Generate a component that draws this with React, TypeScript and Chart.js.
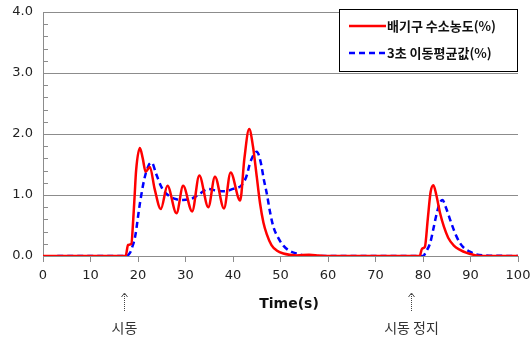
import React, { useEffect, useRef } from "react";
import { Chart, registerables } from "chart.js";

Chart.register(...registerables);

const redX = [0, 17.4, 17.9, 18.6, 19.0, 19.3, 19.6, 20.4, 21.0, 21.6, 22.5, 23.5, 24.8, 26.2, 28.1, 29.5, 31.4, 32.9, 34.8, 36.2, 38.1, 39.5, 41.5, 42.4, 43.4, 44.2, 45.0, 45.7, 46.4, 47.1, 48.1, 49.2, 50.6, 53.4, 56, 58, 60, 79.3, 79.8, 80.4, 81.0, 81.6, 82.2, 82.8, 83.6, 84.4, 85.3, 86.5, 87.8, 89.2, 90.6, 92, 100];
const redY = [0, 0, 0.18, 0.2, 0.6, 1.0, 1.4, 1.77, 1.6, 1.38, 1.46, 1.1, 0.77, 1.15, 0.7, 1.15, 0.73, 1.32, 0.8, 1.3, 0.78, 1.37, 0.91, 1.6, 2.08, 1.8, 1.3, 0.86, 0.55, 0.36, 0.18, 0.09, 0.04, 0.01, 0.02, 0.01, 0, 0, 0.12, 0.15, 0.6, 1.05, 1.16, 1.0, 0.7, 0.48, 0.3, 0.17, 0.1, 0.05, 0.02, 0, 0];

const blueX = [3, 17.5, 18.3, 18.8, 19.4, 20.4, 21.3, 22.2, 22.9, 23.8, 25.0, 26.3, 28.1, 29.5, 31.3, 33.0, 34.8, 36.5, 38.3, 40.0, 41.8, 42.8, 43.7, 45.0, 45.8, 46.5, 47.1, 47.8, 48.5, 49.5, 50.6, 52.0, 53.4, 55, 60, 80, 80.7, 81.5, 82.2, 82.9, 83.5, 84.1, 84.8, 86.0, 87.0, 87.8, 88.8, 89.9, 91, 93, 100];
const blueY = [0, 0, 0.05, 0.15, 0.32, 0.86, 1.25, 1.48, 1.53, 1.35, 1.12, 1.0, 0.93, 0.92, 0.94, 1.02, 1.1, 1.07, 1.06, 1.1, 1.16, 1.3, 1.55, 1.71, 1.55, 1.25, 1.03, 0.72, 0.48, 0.3, 0.17, 0.08, 0.04, 0.01, 0, 0, 0.08, 0.21, 0.45, 0.7, 0.86, 0.92, 0.8, 0.53, 0.33, 0.21, 0.12, 0.07, 0.03, 0.01, 0];

const seriesNames = ["배기구 수소농도(%)", "3초 이동평균값(%)"];
const xTicks = [0, 10, 20, 30, 40, 50, 60, 70, 80, 90, 100];
const yTicks = [0, 1, 2, 3, 4];
const xTitle = "Time(s)";
const markers = [
  { x: 17, label: "시동" },
  { x: 77.5, label: "시동 정지" },
];

const KFONT = "'Noto Sans CJK KR', 'Noto Sans', sans-serif";
const NFONT = "'DejaVu Sans', sans-serif";

const extrasPlugin = {
  id: "extras",
  afterDraw(chart: any) {
    const { ctx, chartArea, scales } = chart;
    const xs = scales.x;
    const ys = scales.y;
    ctx.save();
    ctx.strokeStyle = "#8c8c8c";
    ctx.lineWidth = 1;
    for (let i = 1; i < 20; i++) {
      if (i % 5 === 0) continue;
      const py = Math.round(ys.getPixelForValue(i * 0.2)) + 0.5;
      ctx.beginPath();
      ctx.moveTo(chartArea.left, py);
      ctx.lineTo(chartArea.left + 5, py);
      ctx.stroke();
    }
    const bx = 339.5, by = 9.5, bw = 178, bh = 62;
    ctx.fillStyle = "#ffffff";
    ctx.fillRect(bx, by, bw, bh);
    ctx.strokeStyle = "#000000";
    ctx.lineWidth = 1;
    ctx.strokeRect(bx, by, bw, bh);
    ctx.lineWidth = 2.5;
    ctx.strokeStyle = "#ff0000";
    ctx.setLineDash([]);
    ctx.beginPath();
    ctx.moveTo(349, 26);
    ctx.lineTo(386, 26);
    ctx.stroke();
    ctx.strokeStyle = "#0000ff";
    ctx.setLineDash([6, 4]);
    ctx.beginPath();
    ctx.moveTo(349, 53);
    ctx.lineTo(386, 53);
    ctx.stroke();
    ctx.setLineDash([]);
    ctx.fillStyle = "#111111";
    ctx.font = `bold 13px ${KFONT}`;
    ctx.textBaseline = "middle";
    ctx.textAlign = "left";
    ctx.fillText(seriesNames[0], 387, 26);
    ctx.fillText(seriesNames[1], 387, 53);
    ctx.font = `bold 14px ${NFONT}`;
    ctx.textAlign = "center";
    ctx.fillText(xTitle, 289, 304);
    ctx.font = `14px ${KFONT}`;
    ctx.fillStyle = "#333333";
    markers.forEach((m) => {
      const px = Math.round(xs.getPixelForValue(m.x)) + 0.5;
      ctx.strokeStyle = "#444444";
      ctx.lineWidth = 1;
      ctx.setLineDash([1, 1]);
      ctx.beginPath();
      ctx.moveTo(px, 294);
      ctx.lineTo(px, 312);
      ctx.stroke();
      ctx.setLineDash([]);
      ctx.beginPath();
      ctx.moveTo(px - 3, 297);
      ctx.lineTo(px, 293);
      ctx.lineTo(px + 3, 297);
      ctx.stroke();
      ctx.fillText(m.label, px, 328);
    });
    ctx.restore();
  },
};

export default function App() {
  const ref = useRef<HTMLCanvasElement | null>(null);
  useEffect(() => {
    document.body.style.margin = "0";
    const canvas = ref.current!;
    const chart = new Chart(canvas, {
      type: "line",
      data: {
        datasets: [
          {
            label: seriesNames[0],
            data: redX.map((x, i) => ({ x, y: redY[i] })),
            borderColor: "#ff0000",
            borderWidth: 2.5,
            pointRadius: 0,
            cubicInterpolationMode: "monotone",
            fill: false,
          },
          {
            label: seriesNames[1],
            data: blueX.map((x, i) => ({ x, y: blueY[i] })),
            borderColor: "#0000ff",
            borderWidth: 2.5,
            borderDash: [6, 4],
            pointRadius: 0,
            cubicInterpolationMode: "monotone",
            fill: false,
          },
        ],
      },
      options: {
        animation: false,
        responsive: false,
        events: [],
        layout: { padding: { top: 12, right: 14, left: 0, bottom: 0 } },
        plugins: { legend: { display: false }, tooltip: { enabled: false } },
        scales: {
          x: {
            type: "linear",
            min: 0,
            max: 100,
            afterBuildTicks: (s: any) => {
              s.ticks = xTicks.map((v) => ({ value: v }));
            },
            afterFit: (s: any) => {
              s.height = 85;
              s.paddingLeft = 0;
              s.paddingRight = 0;
            },
            grid: {
              drawOnChartArea: false,
              drawTicks: true,
              tickLength: 6,
              color: "#8c8c8c",
            },
            border: { color: "#8c8c8c" },
            ticks: {
              padding: 6,
              color: "#222222",
              font: { family: NFONT, size: 13 },
              maxRotation: 0,
              callback: (v: any) => String(v),
            },
          },
          y: {
            min: 0,
            max: 4,
            afterBuildTicks: (s: any) => {
              s.ticks = yTicks.map((v) => ({ value: v }));
            },
            afterFit: (s: any) => {
              s.width = 43;
              s.paddingTop = 0;
              s.paddingBottom = 0;
            },
            grid: { color: "#8c8c8c", drawTicks: false },
            border: { color: "#8c8c8c" },
            ticks: {
              padding: 10,
              color: "#222222",
              font: { family: NFONT, size: 13 },
              callback: (v: any) => Number(v).toFixed(1),
            },
          },
        },
      } as any,
      plugins: [extrasPlugin],
    });
    return () => chart.destroy();
  }, []);
  return (
    <div style={{ width: 532, height: 341, background: "#fff" }}>
      <canvas ref={ref} width={532} height={341} style={{ width: 532, height: 341, display: "block" }} />
    </div>
  );
}
